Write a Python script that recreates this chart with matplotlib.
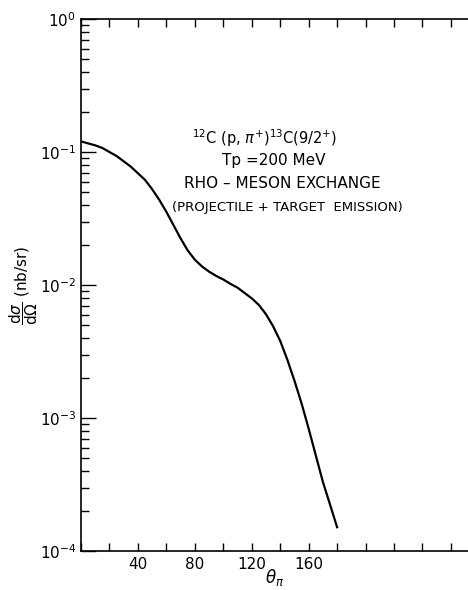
import numpy as np
import matplotlib
matplotlib.use("Agg")
import matplotlib.pyplot as plt
from matplotlib.ticker import LogLocator, MultipleLocator, FixedLocator, NullFormatter

# pion angle (deg) and cross section (nb/sr), rho-meson exchange
theta = [0, 5, 10, 15, 20, 25, 30, 35, 40, 45, 50, 55, 60, 65, 70, 75, 80,
         85, 90, 95, 100, 105, 110, 115, 120, 125, 130, 135, 140, 145, 150,
         155, 160, 165, 170, 175, 180]
sigma = [0.1202, 0.1161, 0.1122, 0.1072, 0.100, 0.0933, 0.0851, 0.0776,
         0.0692, 0.0617, 0.0525, 0.0437, 0.0355, 0.0282, 0.0224, 0.0182,
         0.0155, 0.0138, 0.0126, 0.0117, 0.0110, 0.0102, 0.00955, 0.00871,
         0.00794, 0.00708, 0.00603, 0.00490, 0.00380, 0.00275, 0.00191,
         0.00129, 0.000832, 0.000525, 0.000331, 0.000224, 0.000151]

xtick_labels = [40, 80, 120, 160]

fig = plt.figure(figsize=(4.68, 5.90), dpi=100)
ax = fig.add_axes([81 / 468, 1 - 551 / 590, 1 - 81 / 468, (551 - 19) / 590])

ax.plot(theta, sigma, color="black", lw=1.6)

ax.set_yscale("log")
ax.set_ylim(1e-4, 1e0)
ax.set_xlim(0, 272)

ax.spines["right"].set_visible(False)
for s in ["left", "top", "bottom"]:
    ax.spines[s].set_linewidth(1.2)

ax.xaxis.set_major_locator(FixedLocator(xtick_labels))
ax.xaxis.set_minor_locator(MultipleLocator(20))
ax.tick_params(axis="x", which="both", direction="in", top=True, bottom=True,
               length=6, width=1, labelsize=11, pad=4)
ax.yaxis.set_major_locator(LogLocator(base=10, numticks=10))
ax.yaxis.set_minor_locator(LogLocator(base=10, subs=np.arange(2, 10), numticks=10))
ax.yaxis.set_minor_formatter(NullFormatter())
ax.tick_params(axis="y", which="major", direction="in", length=11, width=1,
               labelsize=11, right=False)
ax.tick_params(axis="y", which="minor", direction="in", length=6, width=1,
               right=False)

ax.set_xlabel(r"$\theta_\pi$", fontsize=12, labelpad=-3)
ax.set_ylabel(r"$\dfrac{\mathrm{d}\sigma}{\mathrm{d}\Omega}$ (nb/sr)",
              fontsize=11, labelpad=0)

# annotation block, pixel x centres converted to axes fractions
def px(x):
    return (x - 81) / 387

def py(y):
    return (551 - y) / 532

ax.text(px(265), py(138), r"$^{12}$C (p, $\pi^{+}$)$^{13}$C(9/2$^{+}$)",
        transform=ax.transAxes, ha="center", va="center", fontsize=10.5)
ax.text(px(274), py(161), "Tp =200 MeV", transform=ax.transAxes,
        ha="center", va="center", fontsize=11)
ax.text(px(282), py(183), "RHO – MESON EXCHANGE", transform=ax.transAxes,
        ha="center", va="center", fontsize=11)
ax.text(px(287), py(207), "(PROJECTILE + TARGET  EMISSION)",
        transform=ax.transAxes, ha="center", va="center", fontsize=9.5)

fig.savefig("out.png", dpi=100)
